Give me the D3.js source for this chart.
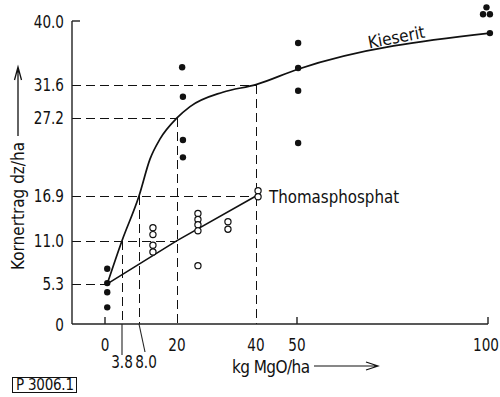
<!DOCTYPE html>
<html>
<head>
<meta charset="utf-8">
<script src="https://cdn.jsdelivr.net/npm/d3@7/dist/d3.min.js"></script>
<style>
  html, body { margin: 0; padding: 0; background: #fff; }
  text { font-family: "DejaVu Sans Condensed", "DejaVu Sans", sans-serif; fill: #111; }
</style>
</head>
<body>
<div id="chart-area"></div>
<script>
// tick values on both axes
const xTickVals = [0, 20, 40, 50, 100];
const xMarkVals = [3.8, 8.0];
const xMarkLabels = ['3.8', '8.0'];
const yTickVals = [0, 5.3, 11.0, 16.9, 27.2, 31.6, 40.0];
const yTickLabels = ['0', '5.3', '11.0', '16.9', '27.2', '31.6', '40.0'];

// Kieserit response curve
const kieseritCurveX = [0.5, 3.8, 8.0, 11.5, 14.6, 20, 23.3, 31.6, 40, 50, 100.5];
const kieseritCurveY = [5.3, 11.0, 16.9, 21.8, 24.4, 27.2, 28.7, 30.6, 31.6, 33.6, 38.4];

// Thomasphosphat line
const thomasLineX = [0.5, 20, 40];
const thomasLineY = [5.3, 11.0, 16.9];

// filled points (Kieserit)
const kieseritDotsX = [0.5, 0.5, 0.5, 0.5, 21.3, 21.5, 21.5, 21.5, 50.3, 50.3, 50.3, 50.3, 100.5, 98.7, 100.5, 99.6];
const kieseritDotsY = [7.3, 5.4, 4.2, 2.2, 33.9, 30.0, 24.3, 22.0, 37.1, 33.8, 30.8, 23.9, 38.4, 40.9, 40.9, 41.8];

// open points (Thomasphosphat)
const thomasDotsX = [12.4, 12.4, 12.4, 12.4, 25.3, 25.3, 25.3, 25.3, 32.9, 32.9, 25.3, 40.5, 40.5];
const thomasDotsY = [12.7, 11.8, 10.4, 9.5, 14.6, 13.8, 13.1, 12.3, 13.5, 12.5, 7.7, 17.6, 16.8];

// dashed guide lines: horizontal (value, up to x) and vertical (value, up to y)
const hGuideVals = [31.6, 27.2, 16.9, 11.0, 5.3];
const hGuideEnds = [40, 20, 40, 20, 0.5];
const vGuideVals = [3.8, 8.0, 20, 40];
const vGuideTops = [11.0, 16.9, 27.2, 31.6];

const W = 500;
const H = 397;

const svg = d3.select('#chart-area')
  .append('svg')
  .attr('width', W)
  .attr('height', H);

// the drawn x axis is not quite uniform, so follow its tick spacing
const x = d3.scaleLinear()
  .domain([0, 3.8, 8, 20, 40, 50, 100])
  .range([105, 122, 139, 177, 256, 297, 488]);

const y = d3.scaleLinear()
  .domain([0, 40])
  .range([324, 21]);

const x0 = 72;

// the original lettering is a narrow stencil face, so squeeze the glyphs
function narrow(sel, px, py, sx) {
  return sel.attr('transform', (d, i) => `translate(${px(d, i)},${py(d, i)}) scale(${sx},1)`);
}

function drawGuides() {
  const g = svg.append('g')
    .attr('stroke', '#111')
    .attr('stroke-width', 1)
    .attr('stroke-dasharray', '9,5')
    .attr('shape-rendering', 'crispEdges')
    .attr('fill', 'none');

  g.selectAll('line.h')
    .data(hGuideVals)
    .enter()
    .append('line')
    .attr('class', 'h')
    .attr('x1', x0)
    .attr('x2', (d, i) => x(hGuideEnds[i]))
    .attr('y1', (d) => Math.round(y(d)) + 0.5)
    .attr('y2', (d) => Math.round(y(d)) + 0.5);

  g.selectAll('line.v')
    .data(vGuideVals)
    .enter()
    .append('line')
    .attr('class', 'v')
    .attr('x1', (d) => Math.round(x(d)) + 0.5)
    .attr('x2', (d) => Math.round(x(d)) + 0.5)
    .attr('y1', (d, i) => y(vGuideTops[i]))
    .attr('y2', y(0));
}

function drawAxes() {
  const g = svg.append('g')
    .attr('stroke', '#222')
    .attr('stroke-width', 1.4)
    .attr('fill', 'none');

  g.append('line')
    .attr('x1', x0).attr('x2', x0)
    .attr('y1', y(40)).attr('y2', y(0));
  g.append('line')
    .attr('x1', x0).attr('x2', x0 + 8)
    .attr('y1', y(40)).attr('y2', y(40));
  g.append('line')
    .attr('x1', x0).attr('x2', x(100))
    .attr('y1', y(0)).attr('y2', y(0));

  // small upward ticks
  g.selectAll('line.tick')
    .data([0, 50, 100])
    .enter()
    .append('line')
    .attr('x1', (d) => x(d)).attr('x2', (d) => x(d))
    .attr('y1', y(0)).attr('y2', y(0) - 7);

  // leaders to the 3.8 and 8.0 labels
  g.append('line')
    .attr('stroke-width', 1.1)
    .attr('x1', x(3.8)).attr('x2', x(3.8))
    .attr('y1', y(0)).attr('y2', y(0) + 31);
  g.append('line')
    .attr('stroke-width', 1.1)
    .attr('x1', x(8)).attr('x2', x(8) + 6)
    .attr('y1', y(0)).attr('y2', y(0) + 28);

  narrow(svg.append('g')
    .selectAll('text')
    .data(yTickVals)
    .enter()
    .append('text')
    .attr('text-anchor', 'end')
    .attr('font-size', 18)
    .text((d, i) => yTickLabels[i]), () => 64, (d) => y(d) + 6.5, 0.84);

  narrow(svg.append('g')
    .selectAll('text')
    .data(xTickVals)
    .enter()
    .append('text')
    .attr('text-anchor', (d) => d === 100 ? 'end' : 'middle')
    .attr('font-size', 18)
    .text((d) => d), (d) => d === 100 ? W - 1 : x(d), () => y(0) + 27, 0.84);

  narrow(svg.append('g')
    .selectAll('text')
    .data(xMarkVals)
    .enter()
    .append('text')
    .attr('text-anchor', 'middle')
    .attr('font-size', 18)
    .text((d, i) => xMarkLabels[i]), (d, i) => x(d) + (i === 0 ? 0 : 7), () => y(0) + 44, 0.84);
}

function drawTitles() {
  // y title, reading upward, with arrow
  svg.append('text')
    .attr('transform', 'translate(24,270) rotate(-90)')
    .attr('font-size', 17)
    .text('Kornertrag dz/ha');
  svg.append('path')
    .attr('d', 'M18,136 L18,70 M14.5,80 L18,67 L21.5,80')
    .attr('stroke', '#111')
    .attr('stroke-width', 1.3)
    .attr('fill', 'none');

  svg.append('text')
    .attr('x', 232)
    .attr('y', 373)
    .attr('font-size', 17)
    .attr('textLength', 78)
    .text('kg MgO/ha');
  svg.append('path')
    .attr('d', 'M314,366 L378,366 M366,362 L378,366 L366,370')
    .attr('stroke', '#111')
    .attr('stroke-width', 1.2)
    .attr('fill', 'none');

  const tag = svg.append('g');
  tag.append('rect')
    .attr('x', 12.5).attr('y', 377.5)
    .attr('width', 64).attr('height', 15)
    .attr('fill', 'none')
    .attr('stroke', '#111')
    .attr('stroke-width', 1);
  tag.append('text')
    .attr('x', 16).attr('y', 390)
    .attr('font-size', 15)
    .attr('textLength', 58)
    .text('P 3006.1');
}

function drawSeries() {
  const line = d3.line()
    .x((d) => x(d[0]))
    .y((d) => y(d[1]));

  svg.append('path')
    .datum(kieseritCurveX.map((v, i) => [v, kieseritCurveY[i]]))
    .attr('d', line.curve(d3.curveMonotoneX))
    .attr('stroke', '#111')
    .attr('stroke-width', 1.7)
    .attr('fill', 'none');

  svg.append('path')
    .datum(thomasLineX.map((v, i) => [v, thomasLineY[i]]))
    .attr('d', d3.line().x((d) => x(d[0])).y((d) => y(d[1])))
    .attr('stroke', '#111')
    .attr('stroke-width', 1.6)
    .attr('fill', 'none');

  svg.append('g')
    .selectAll('circle')
    .data(kieseritDotsX)
    .enter()
    .append('circle')
    .attr('cx', (d) => x(d))
    .attr('cy', (d, i) => y(kieseritDotsY[i]))
    .attr('r', 3.2)
    .attr('fill', '#111');

  svg.append('g')
    .selectAll('circle')
    .data(thomasDotsX)
    .enter()
    .append('circle')
    .attr('cx', (d) => x(d))
    .attr('cy', (d, i) => y(thomasDotsY[i]))
    .attr('r', 3.1)
    .attr('fill', '#fff')
    .attr('stroke', '#111')
    .attr('stroke-width', 1.2);

  svg.append('text')
    .attr('transform', `translate(${x(76.3)},${y(37.1)}) rotate(-11)`)
    .attr('text-anchor', 'middle')
    .attr('font-size', 17)
    .text('Kieserit');

  svg.append('text')
    .attr('transform', `translate(${x(40) + 13},${y(16.9) + 7}) scale(0.93,1)`)
    .attr('font-size', 18)
    .text('Thomasphosphat');
}

function main() {
  drawGuides();
  drawAxes();
  drawSeries();
  drawTitles();
}

main();
</script>
</body>
</html>
